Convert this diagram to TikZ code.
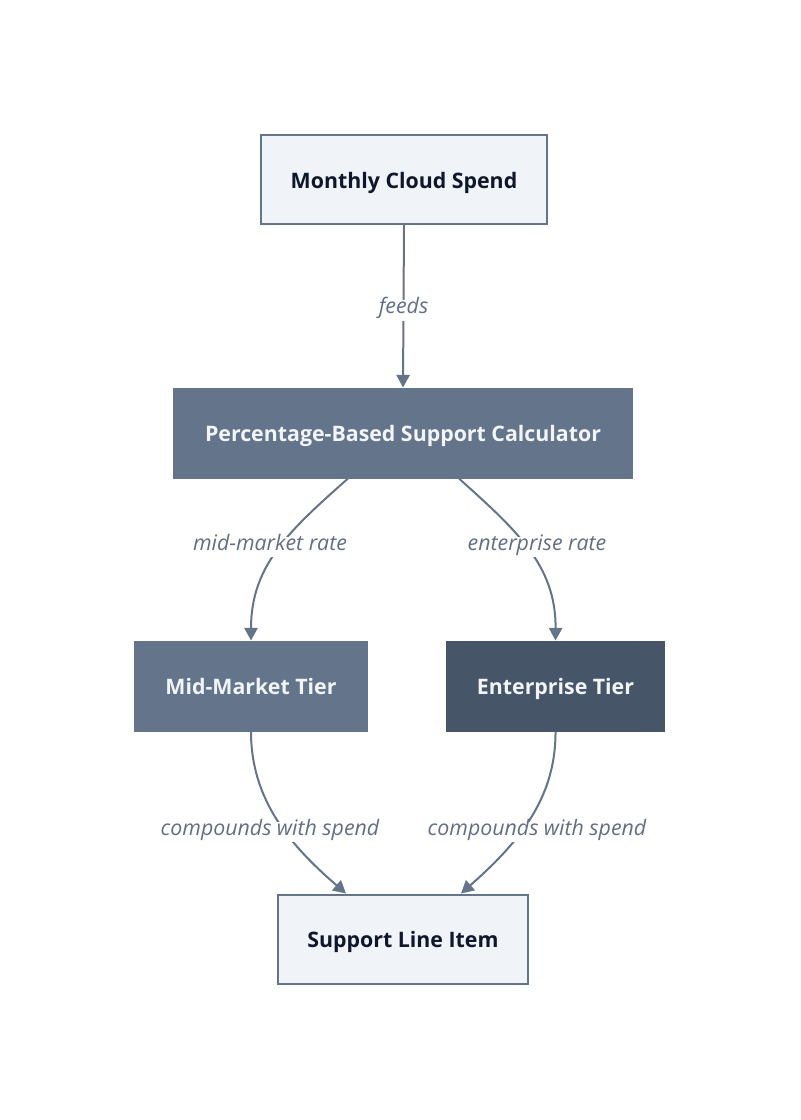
\documentclass[tikz,border=0pt]{standalone}
\usepackage{fontspec}
\setmainfont{Open Sans}
\usetikzlibrary{arrows.meta,calc}
\definecolor{lightfill}{HTML}{F0F3F8}
\definecolor{slate}{HTML}{64748B}
\definecolor{darkslate}{HTML}{475569}
\definecolor{ink}{HTML}{0F172A}
\definecolor{paletext}{HTML}{F1F5F9}
\definecolor{lbl}{HTML}{636E84}
\tikzset{
  box/.style={rectangle, inner sep=0pt, line width=1.5pt, text height=12.8pt, text depth=0pt, font=\fontsize{16}{18}\selectfont\bfseries},
  lightbox/.style={box, draw=slate, fill=lightfill, text=ink},
  midbox/.style={box, draw=slate, fill=slate, text=paletext},
  darkbox/.style={box, draw=darkslate, fill=darkslate, text=paletext},
  conn/.style={draw=slate, line width=1.5pt, -{Triangle[length=9.5pt,width=10pt]}},
  lab/.style={fill=white, text=lbl, inner sep=3pt, yshift=-3pt, text height=0.75em, text depth=0.22em, font=\fontsize{16}{18}\selectfont\itshape},
}
\begin{document}
\begin{tikzpicture}[x=0.75pt,y=-0.75pt]
\useasboundingbox (0,0) rectangle (800,1120);
\node[lightbox, minimum width=286*0.75pt, minimum height=89*0.75pt] (spend) at (404,179.5) {Monthly Cloud Spend};
\node[midbox, minimum width=458*0.75pt, minimum height=89*0.75pt] (calc) at (403,433) {Percentage-Based Support Calculator};
\node[midbox, minimum width=232*0.75pt, minimum height=89*0.75pt] (mid) at (251,686) {Mid-Market Tier};
\node[darkbox, minimum width=217*0.75pt, minimum height=89*0.75pt] (ent) at (555.5,686) {Enterprise Tier};
\node[lightbox, minimum width=250*0.75pt, minimum height=89*0.75pt] (item) at (403,939) {Support Line Item};

\draw[conn] (spend.south) -- (calc.north)
  node[lab, pos=0.5] {feeds};

\draw[conn] ($(calc.south)+(-55,0)$) .. controls (290,530) and (251,565) .. (mid.north);
\node[lab] (l1) at (270,543) {mid-market rate};

\draw[conn] ($(calc.south)+(56,0)$) .. controls (516,530) and (556,565) .. (ent.north);
\node[lab] (l2) at (537,543) {enterprise rate};

\draw[conn] (mid.south) .. controls (251,800) and (290,845) .. ($(item.north)+(-57,0)$);
\node[lab] (l3) at (270,828) {compounds with spend};

\draw[conn] (ent.south) .. controls (556,800) and (516,845) .. ($(item.north)+(58,0)$);
\node[lab] (l4) at (537,828) {compounds with spend};
\end{tikzpicture}
\end{document}
